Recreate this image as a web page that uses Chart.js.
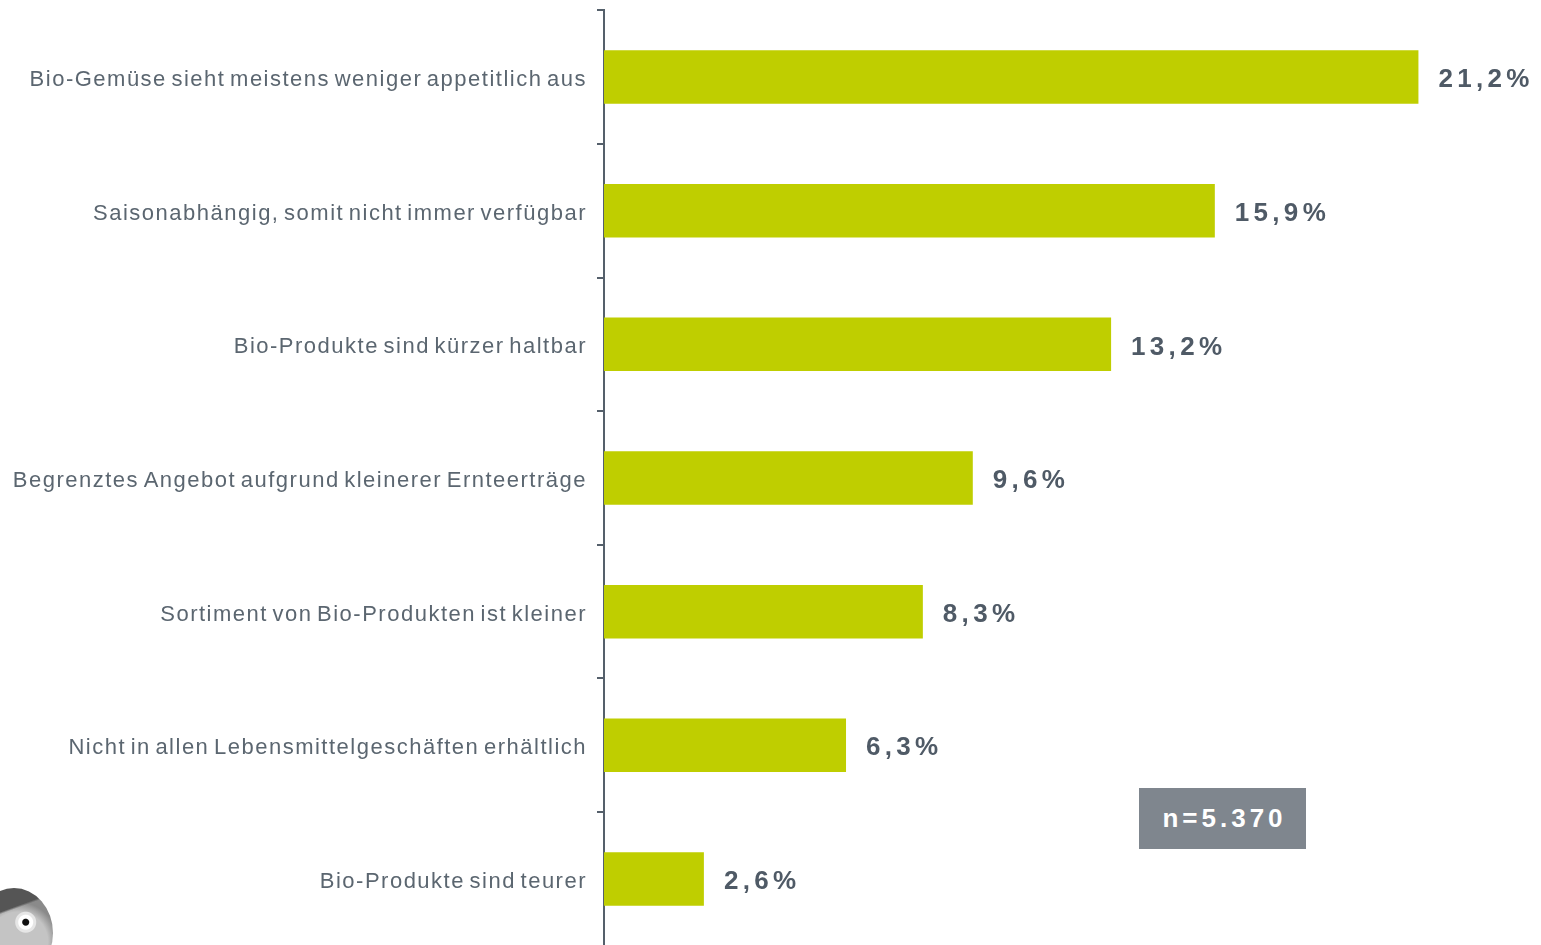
<!DOCTYPE html>
<html>
<head>
<meta charset="utf-8">
<script src="https://cdn.jsdelivr.net/npm/chart.js@4"></script>
<style>
  html, body { margin: 0; padding: 0; background: #fff; overflow: hidden; }
  #wrap { position: relative; width: 1541px; height: 945px; overflow: hidden; }
  #cbox { position: absolute; left: 0; top: -13px; width: 1541px; height: 982px; }
  #nbox {
    position: absolute; left: 1139px; top: 788px; width: 167px; height: 61px;
    background: #7f868e; color: #fff; font: bold 26px "Liberation Sans", Arial, sans-serif;
    letter-spacing: 4px; text-indent: 4px; text-align: center; line-height: 61px;
  }
  #logo {
    position: absolute; left: -25px; top: 888px; width: 78px; height: 90px; border-radius: 50%;
    background: radial-gradient(circle at 65% 38%, #111 0 3px, #fff 4px 7px, #e6e6e6 8px 10px, transparent 11px),
                linear-gradient(160deg, #555 0 28%, transparent 30%),
                radial-gradient(circle at 55% 60%, #c4c4c4 0 30px, #8a8a8a 40px);
  }
</style>
</head>
<body>
<div id="wrap">
  <div id="cbox"><canvas id="myChart"></canvas></div>
  <div id="nbox">n=5.370</div>
  <div id="logo"></div>
</div>
<script>
const labels = [
    'Bio-Gemüse sieht meistens weniger appetitlich aus',
    'Saisonabhängig, somit nicht immer verfügbar',
    'Bio-Produkte sind kürzer haltbar',
    'Begrenztes Angebot aufgrund kleinerer Ernteerträge',
    'Sortiment von Bio-Produkten ist kleiner',
    'Nicht in allen Lebensmittelgeschäften erhältlich',
    'Bio-Produkte sind teurer'
];
const values = [21.2, 15.9, 13.2, 9.6, 8.3, 6.3, 2.6];
const valueLabels = ['21,2%', '15,9%', '13,2%', '9,6%', '8,3%', '6,3%', '2,6%'];

const ctx = document.getElementById('myChart');

// value labels to the right of each bar
const barValues = {
    id: 'barValues',
    afterDatasetsDraw(chart) {
        const c = chart.ctx;
        const meta = chart.getDatasetMeta(0);
        c.save();
        c.font = 'bold 26px "Liberation Sans", Arial, sans-serif';
        c.letterSpacing = '4.3px';
        c.wordSpacing = '0px';
        c.fillStyle = '#4f5a66';
        c.textAlign = 'left';
        c.textBaseline = 'middle';
        meta.data.forEach((bar, i) => {
            c.fillText(valueLabels[i], bar.x + 20, bar.y + 3);
        });
        c.restore();
    }
};

const spacing = {
    id: 'spacing',
    beforeDraw(chart) {
        chart.ctx.letterSpacing = '1.5px';
        chart.ctx.wordSpacing = '-3px';
    }
};

new Chart(ctx, {
    type: 'bar',
    data: {
        labels: labels,
        datasets: [{
            data: values,
            backgroundColor: '#bfce00',
            categoryPercentage: 1,
            barPercentage: 0.4
        }]
    },
    options: {
        indexAxis: 'y',
        responsive: true,
        maintainAspectRatio: false,
        animation: false,
        layout: {
            padding: { top: 10, bottom: 12, right: 15, left: 0 }
        },
        plugins: {
            legend: { display: false },
            tooltip: { enabled: false }
        },
        scales: {
            x: {
                display: false,
                min: 0,
                max: 24
            },
            y: {
                afterFit: s => { s.width = 604; },
                border: { color: '#55606b', width: 2 },
                grid: {
                    drawOnChartArea: false,
                    tickLength: 7,
                    color: '#55606b',
                    lineWidth: 2
                },
                ticks: {
                    padding: 10,
                    labelOffset: 3,
                    color: '#5b6670',
                    font: { family: '"Liberation Sans", Arial, sans-serif', size: 22 }
                }
            }
        }
    },
    plugins: [spacing, barValues]
});
</script>
</body>
</html>
